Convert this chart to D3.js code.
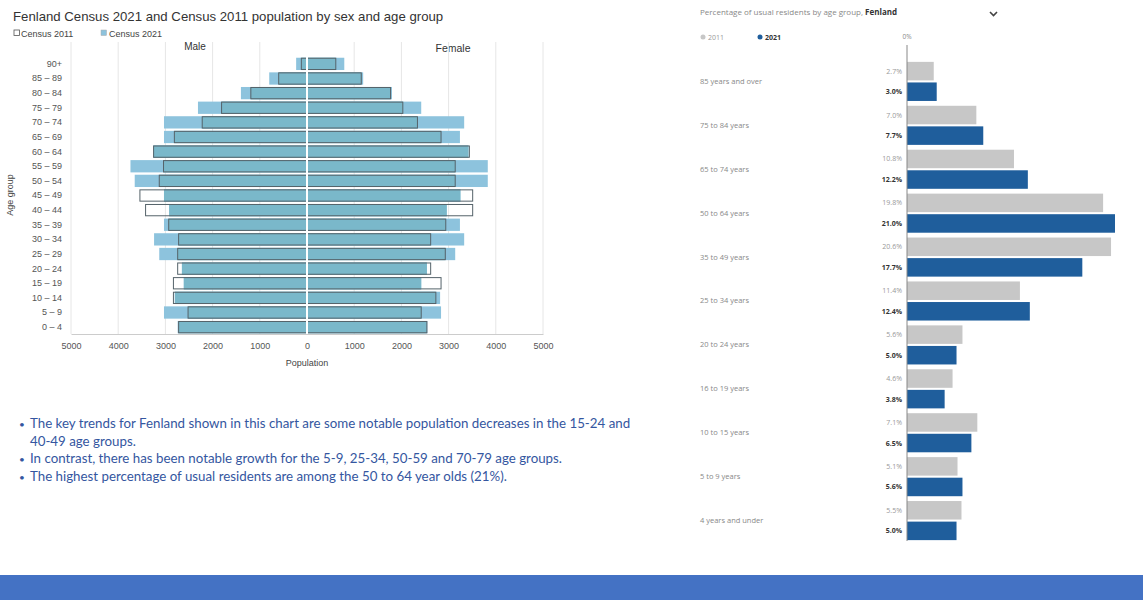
<!DOCTYPE html>
<html>
<head>
<meta charset="utf-8">
<script src="https://cdn.jsdelivr.net/npm/d3@7"></script>
<style>
  html, body { margin: 0; padding: 0; background: #fff; }
  svg { display: block; }
</style>
</head>
<body>
<svg id="chart" width="1143" height="600"></svg>
<script>
// ---- Population pyramid data (Fenland, persons) ----
const ageGroups = ["90+", "85 – 89", "80 – 84", "75 – 79", "70 – 74", "65 – 69", "60 – 64",
  "55 – 59", "50 – 54", "45 – 49", "40 – 44", "35 – 39", "30 – 34", "25 – 29",
  "20 – 24", "15 – 19", "10 – 14", "5 – 9", "0 – 4"];
const male2011   = [120, 600, 1190, 1810, 2220, 2810, 3250, 3040, 3130, 3540, 3420, 2930, 2720, 2740, 2740, 2830, 2830, 2520, 2720];
const male2021   = [230, 800, 1400, 2310, 3030, 3030, 3260, 3740, 3650, 3030, 2920, 3030, 3240, 3130, 2650, 2610, 2800, 3030, 2740];
const female2011 = [610, 1150, 1770, 2030, 2340, 2840, 3440, 3140, 3140, 3510, 3510, 2940, 2620, 2930, 2620, 2840, 2730, 2420, 2540];
const female2021 = [790, 1190, 1800, 2420, 3330, 3240, 3420, 3830, 3830, 3250, 2960, 3240, 3330, 3140, 2540, 2420, 2820, 2840, 2550];
const popTicks = [-5000, -4000, -3000, -2000, -1000, 0, 1000, 2000, 3000, 4000, 5000];

// ---- Percentage of usual residents by age band ----
const ageBands = ["85 years and over", "75 to 84 years", "65 to 74 years", "50 to 64 years",
  "35 to 49 years", "25 to 34 years", "20 to 24 years", "16 to 19 years",
  "10 to 15 years", "5 to 9 years", "4 years and under"];
const pct2011 = [2.7, 7.0, 10.8, 19.8, 20.6, 11.4, 5.6, 4.6, 7.1, 5.1, 5.5];
const pct2021 = [3.0, 7.7, 12.2, 21.0, 17.7, 12.4, 5.0, 3.8, 6.5, 5.6, 5.0];

// ---- Commentary ----
const notes = [
  ["The key trends for Fenland shown in this chart are some notable population decreases in the 15-24 and", "40-49 age groups."],
  ["In contrast, there has been notable growth for the 5-9, 25-34,  50-59 and 70-79 age groups."],
  ["The highest percentage of usual residents are among the 50 to 64 year olds (21%)."]
];

const svg = d3.select("#chart");
const sans = "'Liberation Sans', Arial, sans-serif";

// ================= Pyramid =================
const pyr = svg.append("g").attr("font-family", sans);
const x = d3.scaleLinear().domain([-5000, 5000]).range([71, 543]);
const y = d3.scaleBand().domain(ageGroups).range([57, 334]).paddingInner(0.16).paddingOuter(0.05);

pyr.append("text").attr("x", 13).attr("y", 21).attr("font-size", 13.2).attr("fill", "#333")
  .text("Fenland Census 2021 and Census 2011 population by sex and age group");

// legend
const lg = pyr.append("g").attr("font-size", 9).attr("fill", "#444");
lg.append("rect").attr("x", 14).attr("y", 30).attr("width", 5.5).attr("height", 5.5)
  .attr("fill", "#fff").attr("stroke", "#555").attr("stroke-width", 0.8);
lg.append("text").attr("x", 21).attr("y", 36.5).text("Census 2011");
lg.append("rect").attr("x", 101).attr("y", 30).attr("width", 5.5).attr("height", 5.5)
  .attr("fill", "#8dc3dd").attr("stroke", "#aaa").attr("stroke-width", 0.5);
lg.append("text").attr("x", 109).attr("y", 36.5).text("Census 2021");

pyr.append("text").attr("x", 195).attr("y", 50).attr("text-anchor", "middle")
  .attr("font-size", 10).attr("fill", "#333").text("Male");
pyr.append("text").attr("x", 453).attr("y", 52).attr("text-anchor", "middle")
  .attr("font-size", 10.5).attr("fill", "#333").text("Female");

// gridlines
pyr.append("g").selectAll("line").data(popTicks.filter(d => d !== 0)).join("line")
  .attr("x1", d => x(d)).attr("x2", d => x(d)).attr("y1", 42).attr("y2", 334)
  .attr("stroke", "#e6e6e6").attr("stroke-width", 1);

// bars: 2021 fill, shared part tinted, 2011 outline
function side(vals11, vals21, sign) {
  const g = pyr.append("g");
  const rows = ageGroups.map((a, i) => ({ a, v11: vals11[i], v21: vals21[i] }));
  const pos = (v) => sign < 0 ? x(-v) : x(0);
  const w = (v) => Math.abs(x(v) - x(0));
  g.selectAll("rect.c21").data(rows).join("rect").attr("class", "c21")
    .attr("x", d => pos(d.v21)).attr("width", d => w(d.v21))
    .attr("y", d => y(d.a)).attr("height", y.bandwidth())
    .attr("fill", "#8dc3dd");
  g.selectAll("rect.both").data(rows).join("rect").attr("class", "both")
    .attr("x", d => pos(Math.min(d.v11, d.v21))).attr("width", d => w(Math.min(d.v11, d.v21)))
    .attr("y", d => y(d.a)).attr("height", y.bandwidth())
    .attr("fill", "#7ab8ca");
  g.selectAll("rect.c11").data(rows).join("rect").attr("class", "c11")
    .attr("x", d => pos(d.v11)).attr("width", d => w(d.v11))
    .attr("y", d => y(d.a) + 0.5).attr("height", y.bandwidth() - 1)
    .attr("fill", "none").attr("stroke", "#55636a").attr("stroke-width", 1);
}
side(male2011, male2021, -1);
side(female2011, female2021, 1);

// centre line
pyr.append("line").attr("x1", x(0)).attr("x2", x(0)).attr("y1", 55).attr("y2", 334)
  .attr("stroke", "#fff").attr("stroke-width", 2);

// x axis
const xAxis = pyr.append("g").attr("transform", "translate(0,334)")
  .call(d3.axisBottom(x).tickValues(popTicks).tickSize(0).tickPadding(9).tickFormat(d => d3.format("d")(Math.abs(d))));
xAxis.select(".domain").attr("stroke", "#ccc");
xAxis.selectAll("text").attr("font-size", 9).attr("fill", "#555").attr("font-family", sans);
pyr.append("text").attr("x", x(0)).attr("y", 366).attr("text-anchor", "middle")
  .attr("font-size", 9).attr("fill", "#444").text("Population");

// y axis labels
const yAxis = pyr.append("g").attr("transform", "translate(66,0)")
  .call(d3.axisLeft(y).tickSize(0).tickPadding(4));
yAxis.select(".domain").remove();
yAxis.selectAll("text").attr("font-size", 9).attr("fill", "#555").attr("font-family", sans);
pyr.append("text").attr("transform", "translate(13,195) rotate(-90)").attr("text-anchor", "middle")
  .attr("font-size", 9).attr("fill", "#444").text("Age group");

// ================= Commentary =================
const noteG = svg.append("g").attr("font-family", "Lato, 'Open Sans', sans-serif")
  .attr("font-size", 13.3).attr("fill", "#3456a0");
let lineY = 428;
notes.forEach(lines => {
  noteG.append("text").attr("x", 19).attr("y", lineY).attr("font-size", 10).text("•");
  lines.forEach(t => {
    noteG.append("text").attr("x", 30).attr("y", lineY).text(t);
    lineY += 17.5;
  });
});

// ================= Percentage bars =================
const pc = svg.append("g").attr("font-family", "'Open Sans', sans-serif");
const px = d3.scaleLinear().domain([0, d3.max(pct2021.concat(pct2011))]).range([907, 1115]);
const gy = d3.scaleBand().domain(ageBands).range([61, 541]).paddingInner(0.11).paddingOuter(0.02);
const sy = d3.scaleBand().domain(["2011", "2021"]).range([0, gy.bandwidth()]).paddingInner(0.1);
const col = { "2011": "#c7c7c7", "2021": "#1f5e9c" };

const title = pc.append("text").attr("x", 700).attr("y", 15).attr("font-size", 8).attr("fill", "#888");
title.append("tspan").text("Percentage of usual residents by age group, ");
title.append("tspan").attr("font-weight", "bold").attr("fill", "#333").text("Fenland");
pc.append("path").attr("d", "M990,12 l3.5,3.5 l3.5,-3.5").attr("fill", "none")
  .attr("stroke", "#444").attr("stroke-width", 1.6);

pc.append("circle").attr("cx", 703).attr("cy", 37).attr("r", 2.5).attr("fill", col["2011"]);
pc.append("text").attr("x", 708).attr("y", 40).attr("font-size", 7).attr("fill", "#999").text("2011");
pc.append("circle").attr("cx", 760).attr("cy", 37).attr("r", 2.5).attr("fill", col["2021"]);
pc.append("text").attr("x", 765).attr("y", 40).attr("font-size", 7).attr("font-weight", "bold").attr("fill", "#333").text("2021");
pc.append("text").attr("x", px(0)).attr("y", 39).attr("text-anchor", "middle")
  .attr("font-size", 6.5).attr("fill", "#888").text("0%");

const fmt = d => d3.format(".1f")(d) + "%";
const grp = pc.selectAll("g.band").data(ageBands.map((b, i) => ({ b, v: { "2011": pct2011[i], "2021": pct2021[i] } })))
  .join("g").attr("class", "band").attr("transform", d => `translate(0,${gy(d.b)})`);
grp.append("text").attr("x", 700).attr("y", gy.bandwidth() / 2 + 2.5)
  .attr("font-size", 7.5).attr("fill", "#888").text(d => d.b);
["2011", "2021"].forEach(k => {
  grp.append("rect").attr("x", px(0)).attr("y", sy(k)).attr("height", sy.bandwidth())
    .attr("width", d => px(d.v[k]) - px(0)).attr("fill", col[k]);
  grp.append("text").attr("x", 902).attr("y", sy(k) + sy.bandwidth() / 2 + 2.5)
    .attr("text-anchor", "end").attr("font-size", 7)
    .attr("font-weight", k === "2021" ? "bold" : "normal")
    .attr("fill", k === "2021" ? "#333" : "#999").text(d => fmt(d.v[k]));
});
pc.append("line").attr("x1", px(0)).attr("x2", px(0)).attr("y1", 45).attr("y2", 541)
  .attr("stroke", "#888").attr("stroke-width", 1);

// ================= Footer band =================
svg.append("rect").attr("x", 0).attr("y", 575).attr("width", 1143).attr("height", 25).attr("fill", "#4472c4");
</script>
</body>
</html>
